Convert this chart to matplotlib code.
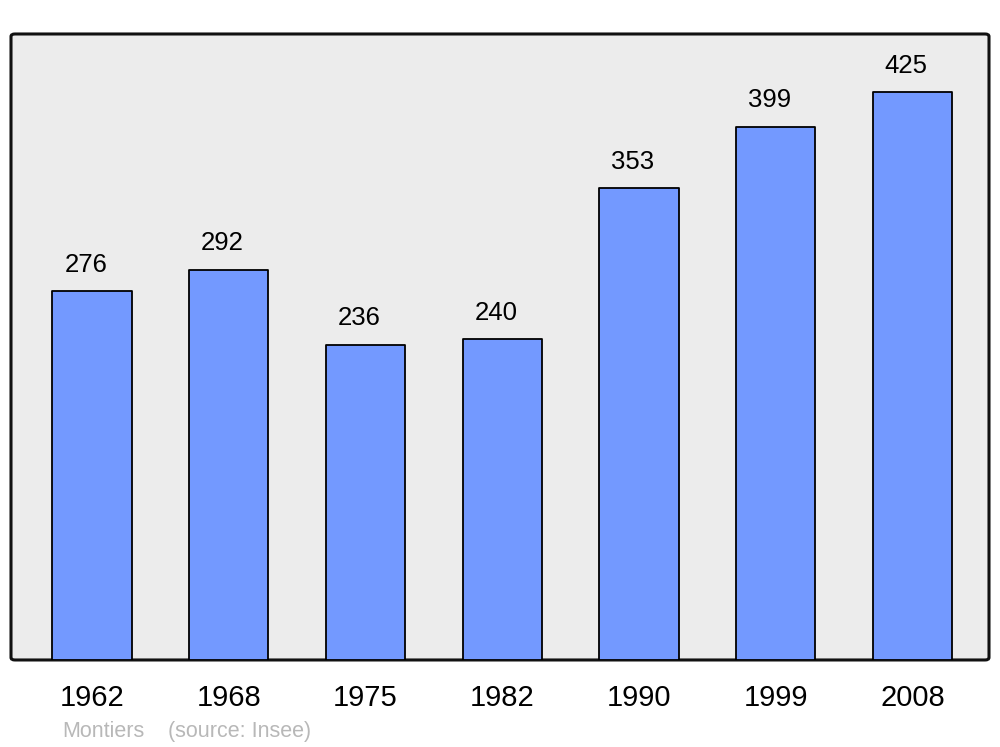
import matplotlib.pyplot as plt
from matplotlib.patches import FancyBboxPatch

plt.rcParams['font.family'] = ['Liberation Sans', 'DejaVu Sans']

# data
years = ["1962", "1968", "1975", "1982", "1990", "1999", "2008"]
population = [276, 292, 236, 240, 353, 399, 425]
town = "Montiers"
source = "(source: Insee)"

fig = plt.figure(figsize=(10, 7.47), dpi=100)
ax = fig.add_axes([0.011, 0.1165, 0.978, 0.838])
ax.set_facecolor("none")

# rounded grey frame
frame = FancyBboxPatch((0, 0), 1, 1, boxstyle="round,pad=0,rounding_size=0.004",
                       transform=ax.transAxes, facecolor="#ececec",
                       edgecolor="#111111", linewidth=2.2, zorder=0, clip_on=False)
ax.add_patch(frame)

x = range(len(years))
bars = ax.bar(x, population, width=0.58, color="#7399ff", edgecolor="black",
              linewidth=1.3, zorder=2)
for b in bars:
    b.set_joinstyle("round")

# value labels sit a little left of the bar centre, like the original
for xi, v in zip(x, population):
    ax.annotate(str(v), (xi, v), xytext=(-4.5, 19), textcoords="offset points",
                ha="center", va="center", fontsize=18.5, color="black")

ax.set_xlim(-0.592, 6.56)
ax.set_ylim(0, 468.5)
ax.set_xticks(list(x))
ax.set_xticklabels(years, fontsize=21)
ax.tick_params(axis="x", length=0, pad=17)
ax.set_yticks([])
for s in ax.spines.values():
    s.set_visible(False)

fig.text(0.062, 0.021, town, fontsize=15.5, color="#b8b8b8", va="center")
fig.text(0.168, 0.021, source, fontsize=15.5, color="#b8b8b8", va="center")

fig.savefig("out.png", dpi=100)
